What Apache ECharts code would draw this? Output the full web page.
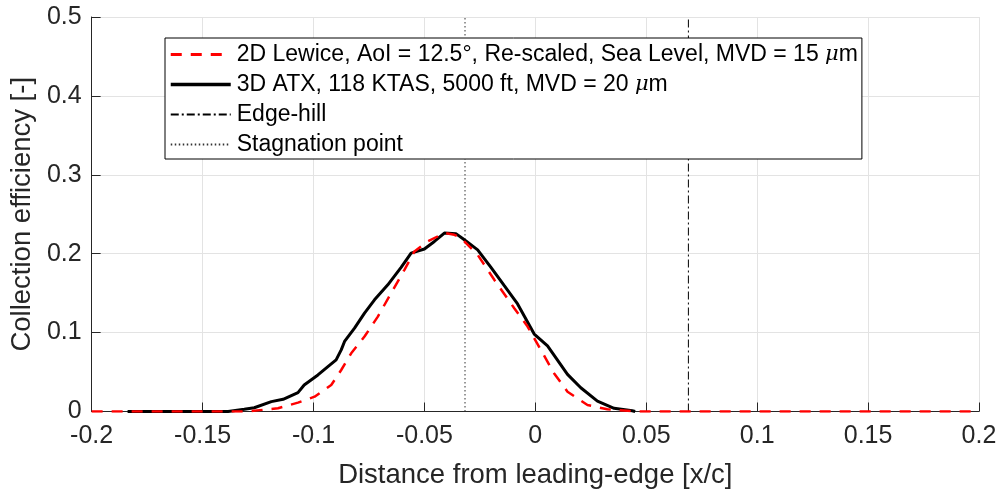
<!DOCTYPE html>
<html><head><meta charset="utf-8">
<script src="https://cdn.jsdelivr.net/npm/echarts@6/dist/echarts.min.js"></script>
<style>html,body{margin:0;padding:0;background:#fff}#c{width:1003px;height:497px}</style>
</head><body><div id="c"></div>
<script>
const lewiceX = [-0.2,-0.13,-0.1160,-0.1070,-0.0995,-0.0920,-0.0875,-0.0830,-0.0770,-0.0710,-0.0650,-0.0590,-0.0545,-0.0485,-0.0410,-0.0365,-0.0335,-0.0260,-0.0185,-0.0095,-0.0035,0.0025,0.0085,0.0145,0.0235,0.0325,0.0415,0.046,0.2];
const lewiceY = [0,0,0.0041,0.0112,0.0188,0.0336,0.0526,0.0738,0.0950,0.1203,0.1500,0.1796,0.2029,0.2155,0.2262,0.2240,0.2199,0.1986,0.1669,0.1309,0.1077,0.0780,0.0482,0.0251,0.0082,0.0028,0.0010,0,0];
const atxX = [-0.1838,-0.1385,-0.1312,-0.1267,-0.1190,-0.1137,-0.1070,-0.1042,-0.0980,-0.0935,-0.0898,-0.0875,-0.0860,-0.0815,-0.0770,-0.0725,-0.0665,-0.0605,-0.0560,-0.0500,-0.0455,-0.0410,-0.0358,-0.0320,-0.0260,-0.0200,-0.0140,-0.0080,-0.0005,0.0055,0.0145,0.0205,0.0280,0.0355,0.0437,0.0450];
const atxY = [0,0,0.0028,0.0048,0.0125,0.0155,0.0239,0.0336,0.0463,0.0569,0.0654,0.0781,0.0888,0.1056,0.1246,0.1415,0.1605,0.1827,0.2008,0.2059,0.2155,0.2262,0.2254,0.2176,0.2049,0.1827,0.1594,0.1363,0.0982,0.0833,0.0470,0.0301,0.0131,0.0041,0.0010,0];
const edgeHillX = 0.069;
const stagnationX = -0.0317;
const xTicks = {min:-0.2, max:0.2, step:0.05};
const yTicks = {min:0, max:0.5, step:0.1};
const names = ['2D Lewice, AoI = 12.5°, Re-scaled, Sea Level, MVD = 15 {i|μ}m','3D ATX, 118 KTAS, 5000 ft, MVD = 20 {i|μ}m','Edge-hill','Stagnation point'];

const zip = (xs, ys) => xs.map((x,i)=>[x,ys[i]]);
const chart = echarts.init(document.getElementById('c'));
const font = 'Liberation Sans, Arial, Helvetica, sans-serif';
const axisColor = '#262626';
chart.setOption({
  animation:false,
  backgroundColor:'#fff',
  grid:{left:90,right:24,top:17,bottom:85.5,containLabel:false},
  legend:{
    orient:'vertical', left:165, top:38,
    data:[{name:'s0',lineStyle:{width:3}},{name:'s1',lineStyle:{width:3.5}},{name:'s2'},{name:'s3'}],
    formatter:(n)=>names[+n.slice(1)],
    backgroundColor:'#fff', borderColor:'#000', borderWidth:1,
    padding:[5,4,3,4], itemGap:7, itemWidth:60, itemHeight:22,
    itemStyle:{opacity:0},
    textStyle:{fontFamily:font,fontSize:23,color:'#000',padding:[0,0,0,1],rich:{i:{fontFamily:'DejaVu Serif',fontStyle:'italic',fontSize:21,color:'#000'}}}
  },
  xAxis:{type:'value',min:xTicks.min,max:xTicks.max,interval:xTicks.step,
    name:'Distance from leading-edge [x/c]',nameLocation:'middle',nameGap:50,
    nameTextStyle:{fontFamily:font,fontSize:27.5,color:axisColor},
    axisLine:{onZero:false,lineStyle:{color:axisColor,width:1}},
    axisTick:{inside:true,length:9,lineStyle:{color:axisColor}},
    axisLabel:{fontFamily:font,fontSize:25,color:axisColor,margin:12,showMinLabel:true,showMaxLabel:true,
      formatter:v=>String(+v.toFixed(2))},
    splitLine:{show:true,lineStyle:{color:'#e3e3e3',width:1}}
  },
  yAxis:{type:'value',min:yTicks.min,max:yTicks.max,interval:yTicks.step,
    name:'Collection efficiency [-]',nameLocation:'middle',nameGap:51,
    nameTextStyle:{fontFamily:font,fontSize:27.5,color:axisColor},
    axisLine:{show:true,onZero:false,lineStyle:{color:axisColor,width:1}},
    axisTick:{show:true,inside:true,length:9,lineStyle:{color:axisColor}},
    axisLabel:{fontFamily:font,fontSize:25,color:axisColor,margin:10,
      formatter:v=>String(+v.toFixed(1))},
    splitLine:{show:true,lineStyle:{color:'#e3e3e3',width:1}}
  },
  series:[
    {name:'s0',type:'line',data:zip(lewiceX,lewiceY),symbol:'none',z:4,
      lineStyle:{color:'#ff0000',width:2.5,type:[11,9]},itemStyle:{color:'#ff0000'}},
    {name:'s1',type:'line',data:zip(atxX,atxY),symbol:'none',z:3,
      lineStyle:{color:'#000',width:3},itemStyle:{color:'#000'}},
    {name:'s2',type:'line',data:[[edgeHillX,yTicks.min],[edgeHillX,yTicks.max]],symbol:'none',z:2,
      lineStyle:{color:'#000',width:1,type:[8,3,2,3]},itemStyle:{color:'#000'}},
    {name:'s3',type:'line',data:[[stagnationX,yTicks.min],[stagnationX,yTicks.max]],symbol:'none',z:2,
      lineStyle:{color:'#333',width:1,type:[1.5,2.5]},itemStyle:{color:'#333'}}
  ]
});
</script></body></html>
